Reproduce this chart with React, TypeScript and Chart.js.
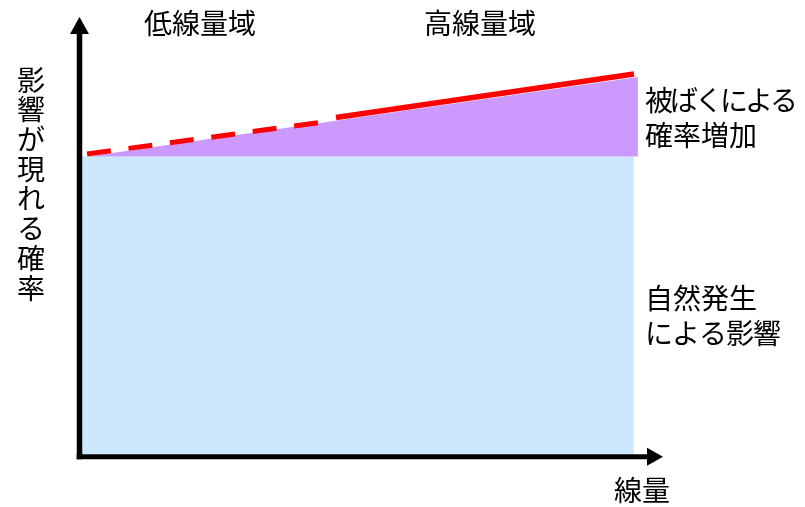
import React, { useEffect, useRef } from "react";
import { Chart, registerables } from "chart.js";

Chart.register(...registerables);

// ---- data (arbitrary units: dose 0-100, probability 0-100) ----
const naturalDose = [0, 95.0];
const naturalProb = [68.3, 68.3];
const exposureDose = [1.46, 95.7];
const exposureProb = [68.3, 86.35];
const exposureBase = 68.3;
const lowDoseLineDose = [1.29, 40.87];
const lowDoseLineProb = [68.84, 75.96];
const highDoseLineDose = [43.96, 95.03];
const highDoseLineProb = [77.14, 87.04];

// ---- texts ----
const regionLabels = ["低線量域", "高線量域"];
const exposureLabel = ["被ばくによる", "確率増加"];
const naturalLabel = ["自然発生", "による影響"];
const yTitle = "影響が現れる確率";
const xTitle = "線量";

const FONT = '"Noto Sans CJK JP", "Noto Sans CJK SC", sans-serif';

const pts = (xs: number[], ys: number[]) => xs.map((x, i) => ({ x, y: ys[i] }));

const decorPlugin = {
  id: "decor",
  afterDraw(chart: any) {
    const ctx = chart.ctx as CanvasRenderingContext2D;
    const xs = chart.scales.x;
    const ys = chart.scales.y;
    const area = chart.chartArea;
    const x0 = xs.getPixelForValue(0);
    const y0 = ys.getPixelForValue(0);
    ctx.save();
    ctx.fillStyle = "#000";
    ctx.strokeStyle = "#000";
    // y axis
    ctx.lineWidth = 5.5;
    ctx.beginPath();
    ctx.moveTo(x0, y0 + 2.5);
    ctx.lineTo(x0, area.top + 16);
    ctx.stroke();
    ctx.beginPath();
    ctx.moveTo(x0, area.top);
    ctx.lineTo(x0 - 9.5, area.top + 17);
    ctx.lineTo(x0 + 9.5, area.top + 17);
    ctx.closePath();
    ctx.fill();
    // x axis
    ctx.lineWidth = 5;
    ctx.beginPath();
    ctx.moveTo(x0 - 2.8, y0);
    ctx.lineTo(area.right - 15, y0);
    ctx.stroke();
    ctx.beginPath();
    ctx.moveTo(area.right, y0);
    ctx.lineTo(area.right - 16, y0 - 9);
    ctx.lineTo(area.right - 16, y0 + 9);
    ctx.closePath();
    ctx.fill();

    // texts
    ctx.font = `28px ${FONT}`;
    ctx.textBaseline = "middle";
    ctx.textAlign = "center";
    ctx.fillText(regionLabels[0], 200, 23);
    ctx.fillText(regionLabels[1], 480, 23);
    ctx.fillText(xTitle, 642, 490);
    for (let i = 0; i < yTitle.length; i++) {
      ctx.fillText(yTitle[i], 31, 80 + i * 29.7);
    }
    ctx.textAlign = "left";
    (ctx as any).letterSpacing = "-3px";
    ctx.fillText(exposureLabel[0], 645, 100);
    (ctx as any).letterSpacing = "0px";
    ctx.fillText(exposureLabel[1], 645, 135);
    ctx.fillText(naturalLabel[0], 645, 298);
    (ctx as any).letterSpacing = "-1px";
    ctx.fillText(naturalLabel[1], 645, 333);
    (ctx as any).letterSpacing = "0px";
    ctx.restore();
  },
};

export default function App() {
  const ref = useRef<HTMLCanvasElement | null>(null);
  useEffect(() => {
    if (!ref.current) return;
    const chart = new Chart(ref.current, {
      type: "line",
      data: {
        datasets: [
          {
            label: "高線量域",
            data: pts(highDoseLineDose, highDoseLineProb),
            borderColor: "#ff0000",
            borderWidth: 5.5,
            borderCapStyle: "butt",
            pointRadius: 0,
            fill: false,
            order: 0,
          },
          {
            label: "低線量域",
            data: pts(lowDoseLineDose, lowDoseLineProb),
            borderColor: "#ff0000",
            borderWidth: 5,
            borderDash: [24, 17.8],
            borderCapStyle: "butt",
            pointRadius: 0,
            fill: false,
            order: 0,
          },
          {
            label: "被ばくによる確率増加",
            data: pts(exposureDose, exposureProb),
            borderWidth: 0,
            borderColor: "rgba(0,0,0,0)",
            backgroundColor: "#cc99ff",
            pointRadius: 0,
            fill: { value: exposureBase },
            order: 1,
          },
          {
            label: "自然発生による影響",
            data: pts(naturalDose, naturalProb),
            borderWidth: 0,
            borderColor: "rgba(0,0,0,0)",
            backgroundColor: "#cce8ff",
            pointRadius: 0,
            fill: "origin",
            order: 2,
          },
        ],
      } as any,
      options: {
        animation: false,
        responsive: false,
        devicePixelRatio: 1,
        layout: { padding: { left: 79.5, top: 17, right: 142, bottom: 50.3 } },
        plugins: {
          legend: { display: false },
          tooltip: { enabled: false },
          title: { display: false },
        },
        elements: { line: { tension: 0 } },
        scales: {
          x: { type: "linear", min: 0, max: 100, display: false },
          y: { type: "linear", min: 0, max: 100, display: false },
        },
      } as any,
      plugins: [decorPlugin],
    });
    return () => chart.destroy();
  }, []);
  return (
    <div style={{ position: "absolute", left: 0, top: 0, width: 805, height: 507, background: "#fff" }}>
      <canvas ref={ref} width={805} height={507} style={{ width: 805, height: 507, display: "block" }} />
    </div>
  );
}
